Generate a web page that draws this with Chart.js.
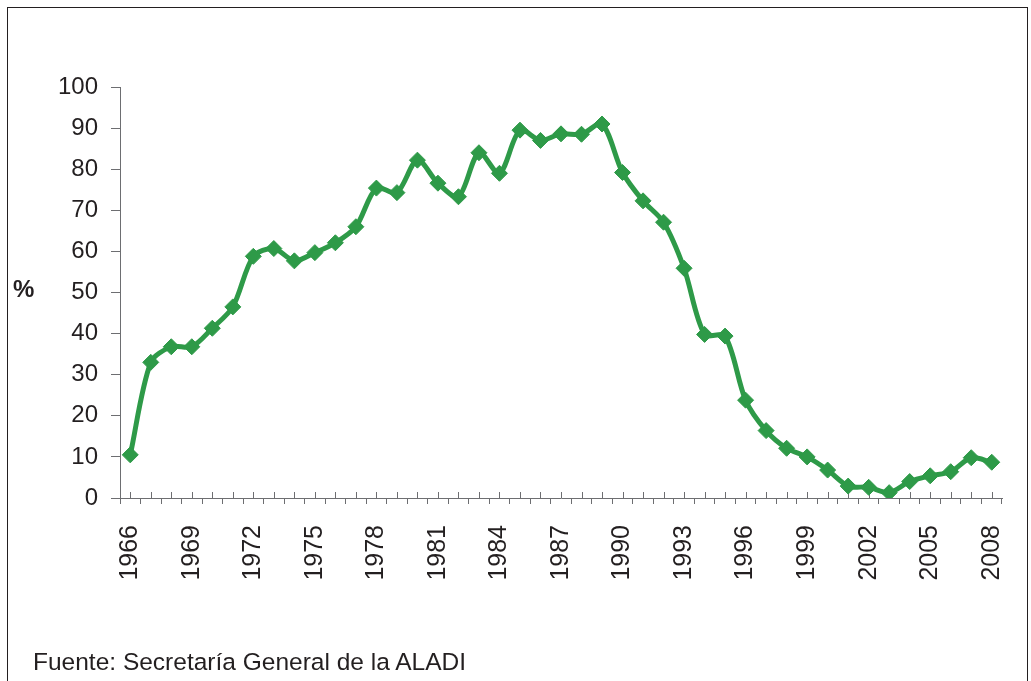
<!DOCTYPE html>
<html>
<head>
<meta charset="utf-8">
<script src="https://cdn.jsdelivr.net/npm/chart.js@4/dist/chart.umd.min.js"></script>
<style>
  body { margin: 0; background: #fff; overflow: hidden; }
  #wrap { position: relative; width: 1031px; height: 681px; }
  #frame { position: absolute; left: 7px; top: 7px; width: 1019px; height: 700px; border: 1px solid #231f20; }
  #pct { position: absolute; left: 13px; top: 277px; font: bold 24px "Liberation Sans", Arial, sans-serif; line-height: 1; color: #231f20; }
  #src { position: absolute; left: 33px; top: 650px; font: 24.5px "Liberation Sans", Arial, sans-serif; line-height: 1; color: #231f20; }
  canvas { position: absolute; left: 0; top: 0; }
</style>
</head>
<body>
<div id="wrap">
  <div id="frame"></div>
  <canvas id="chart" width="1031" height="681"></canvas>
  <div id="pct">%</div>
  <div id="src">Fuente: Secretaría General de la ALADI</div>
</div>
<script>
// years 1966 - 2008
const years = ['1966', '1967', '1968', '1969', '1970', '1971', '1972', '1973', '1974', '1975',
    '1976', '1977', '1978', '1979', '1980', '1981', '1982', '1983', '1984', '1985',
    '1986', '1987', '1988', '1989', '1990', '1991', '1992', '1993', '1994', '1995',
    '1996', '1997', '1998', '1999', '2000', '2001', '2002', '2003', '2004', '2005',
    '2006', '2007', '2008'];

// % values
const values = [10.5, 33.0, 36.8, 36.8, 41.3, 46.5, 58.8, 60.7, 57.7, 59.7,
    62.1, 66.0, 75.4, 74.3, 82.2, 76.6, 73.3, 84.0, 79.0, 89.5,
    87.0, 88.6, 88.5, 91.0, 79.2, 72.3, 67.1, 55.9, 39.8, 39.4,
    23.8, 16.4, 12.1, 10.0, 6.8, 2.9, 2.6, 1.3, 4.0, 5.4,
    6.4, 9.8, 8.7];

const yTicks = [0, 10, 20, 30, 40, 50, 60, 70, 80, 90, 100];

const green = '#2e9a48';
const axisGrey = '#6d6e71';
const textCol = '#231f20';
const fontFamily = '"Liberation Sans", Arial, sans-serif';

// small ticks above the x axis, at each year
const upTicks = {
    id: 'upTicks',
    beforeDatasetsDraw(chart) {
        const ctx = chart.ctx;
        const x = chart.scales.x;
        const base = chart.chartArea.bottom;
        ctx.save();
        ctx.strokeStyle = axisGrey;
        ctx.lineWidth = 1;
        ctx.beginPath();
        for (var i = 0; i < years.length; i++) {
            const px = Math.round(x.getPixelForValue(i)) + 0.5;
            ctx.moveTo(px, base);
            ctx.lineTo(px, base - 6);
        }
        ctx.stroke();
        ctx.restore();
    }
};

const ctx = document.getElementById('chart');

new Chart(ctx, {
    type: 'line',
    data: {
        labels: years,
        datasets: [{
            data: values,
            borderColor: green,
            backgroundColor: green,
            borderWidth: 5,
            tension: 0.3,
            pointStyle: 'rectRot',
            pointRadius: 8,
            pointBorderWidth: 1,
            pointBorderColor: green,
            pointBackgroundColor: green,
            fill: false
        }]
    },
    options: {
        responsive: false,
        animation: false,
        devicePixelRatio: 1,
        layout: { padding: { left: 0, top: 87, right: 29, bottom: 83 } },
        plugins: {
            legend: { display: false },
            tooltip: { enabled: false }
        },
        scales: {
            x: {
                offset: true,
                grid: {
                    offset: true,
                    drawOnChartArea: false,
                    drawTicks: true,
                    tickLength: 6,
                    color: axisGrey
                },
                border: { color: axisGrey, width: 1 },
                ticks: {
                    autoSkip: false,
                    maxRotation: 90,
                    minRotation: 90,
                    padding: 21,
                    color: textCol,
                    font: { family: fontFamily, size: 25 },
                    callback: function (val, idx) {
                        return idx % 3 === 0 ? years[idx] : '';
                    }
                },
                afterFit: function (scale) {
                    scale.height = 100;
                    // labels padding would shrink the plot on the right
                    scale.paddingLeft = 0;
                    scale.paddingRight = 0;
                }
            },
            y: {
                min: 0,
                max: 100,
                grid: {
                    drawOnChartArea: false,
                    drawTicks: true,
                    tickLength: 9,
                    color: axisGrey
                },
                border: { color: axisGrey, width: 1 },
                afterBuildTicks: function (scale) {
                    scale.ticks = yTicks.map(function (v) { return { value: v }; });
                },
                ticks: {
                    padding: 13,
                    color: textCol,
                    font: { family: fontFamily, size: 24 }
                },
                afterFit: function (scale) { scale.width = 120; }
            }
        }
    },
    plugins: [upTicks]
});
</script>
</body>
</html>
